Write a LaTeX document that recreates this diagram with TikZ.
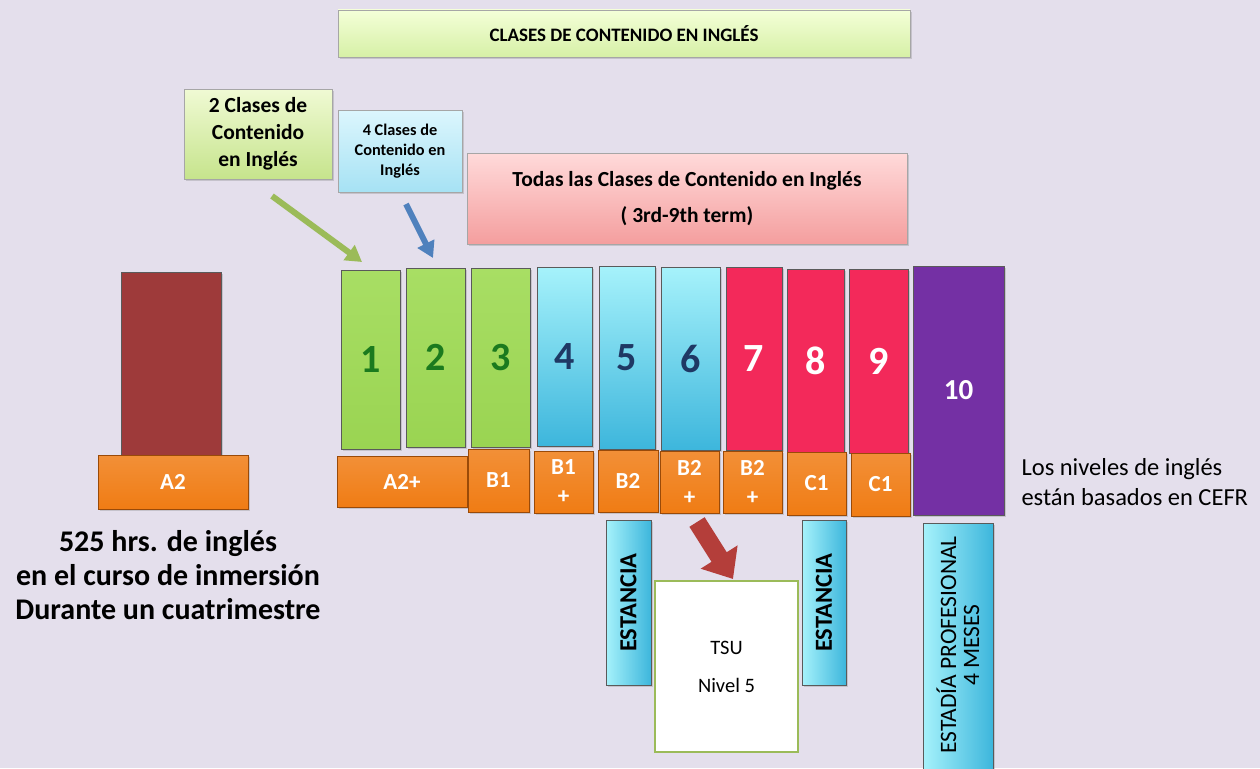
\documentclass[tikz,border=0pt]{standalone}
\usepackage{fontspec}
\setmainfont{Carlito}
\usetikzlibrary{shadows,arrows.meta}
\definecolor{bgc}{HTML}{E4DFEC}
\definecolor{grn}{HTML}{9AD452}
\definecolor{grnL}{HTML}{A8DE64}
\definecolor{grnD}{HTML}{1B7A1E}
\definecolor{bluT}{HTML}{A6F2FB}
\definecolor{bluB}{HTML}{3DB6DC}
\definecolor{navy}{HTML}{1F3864}
\definecolor{redc}{HTML}{F3295A}
\definecolor{purp}{HTML}{7430A4}
\definecolor{brn}{HTML}{9E3A3A}
\definecolor{org}{HTML}{F07C14}
\definecolor{orgD}{HTML}{9A4A08}
\definecolor{bord}{HTML}{5A5A5A}
\definecolor{titT}{HTML}{F4FFD8}
\definecolor{titB}{HTML}{D6F0A6}
\definecolor{c1T}{HTML}{F0FAD4}
\definecolor{c1B}{HTML}{C6E48C}
\definecolor{c2T}{HTML}{DCF6FD}
\definecolor{c2B}{HTML}{A6E2F4}
\definecolor{tdT}{HTML}{FFDADA}
\definecolor{tdB}{HTML}{F49E9E}
\definecolor{garr}{HTML}{9BBB59}
\definecolor{barr}{HTML}{4F81BD}
\definecolor{rarr}{HTML}{B43E3A}
\tikzset{
  box/.style={draw=bord, line width=0.8pt, inner sep=0pt, align=center,
    drop shadow={opacity=0.3, shadow xshift=2pt, shadow yshift=-2pt}},
  numf/.style={font=\bfseries\fontsize{40}{42}\selectfont},
  gcol/.style={box, top color=grnL, bottom color=grn, text=grnD, numf},
  bcol/.style={box, top color=bluT, bottom color=bluB, text=navy, numf},
  rcol/.style={box, fill=redc, text=white, numf},
  lvl/.style={box, draw=orgD, top color=org!85!white, bottom color=org, text=white, font=\bfseries\fontsize{23}{29}\selectfont},
  estbox/.style={box, left color=bluT, right color=bluB},
}
\begin{document}
\begin{tikzpicture}[x=1pt,y=-1pt]
\fill[bgc] (0,0) rectangle (1260,768);
\useasboundingbox (0,0) rectangle (1260,768);

% title
\node[box, draw=gray!70, top color=titT, bottom color=titB,
  minimum width=572pt, minimum height=47pt, font=\bfseries\fontsize{19}{21}\selectfont] (title) at (624,33.5) {CLASES DE CONTENIDO EN INGLÉS};

% callouts
\node[box, draw=gray!70, top color=c1T, bottom color=c1B,
  minimum width=148pt, minimum height=90pt, font=\bfseries\fontsize{21.5}{27}\selectfont] (cl1) at (258,134) {2 Clases de\\Contenido\\en Inglés};
\node[box, draw=gray!70, top color=c2T, bottom color=c2B,
  minimum width=124pt, minimum height=82pt, font=\bfseries\fontsize{16.3}{20}\selectfont] (cl2) at (400,151) {4 Clases de\\Contenido en\\Inglés};
\node[box, draw=gray!70, top color=tdT, bottom color=tdB,
  minimum width=440pt, minimum height=91pt, font=\bfseries\fontsize{21.5}{36}\selectfont] (todas) at (687,198.5) {Todas las Clases de Contenido en Inglés\\( 3rd-9th term)};

% arrows
\coordinate (ga1) at (272,196);
\coordinate (ga2) at (362,262);
\coordinate (ba1) at (406,204);
\coordinate (ba2) at (433,258);
\draw[line width=6pt, draw=garr, -{Triangle[length=16pt,width=18pt]}] (ga1) -- (ga2);
\draw[line width=6pt, draw=barr, -{Triangle[length=16pt,width=18pt]}] (ba1) -- (ba2);

% brown column + A2
\node[box, fill=brn, minimum width=100pt, minimum height=183pt] (c0) at (171,363.5) {};
\node[lvl, minimum width=150pt, minimum height=54pt] (a2) at (173,482) {A2};

% columns
\node[gcol, minimum width=59pt, minimum height=179pt] (c1) at (370.5,359.5) {1};
\node[gcol, minimum width=59pt, minimum height=179pt] (c2) at (435.5,357.5) {2};
\node[gcol, minimum width=59pt, minimum height=179pt] (c3) at (500.5,357.5) {3};
\node[bcol, minimum width=55pt, minimum height=179pt] (c4) at (564.5,356.5) {4};
\node[bcol, minimum width=56pt, minimum height=183pt] (c5) at (627,357.5) {5};
\node[bcol, minimum width=59pt, minimum height=183pt] (c6) at (690.5,358.5) {6};
\node[rcol, minimum width=56pt, minimum height=183pt] (c7) at (754,358.5) {7};
\node[rcol, minimum width=57pt, minimum height=183pt] (c8) at (815.5,360.5) {8};
\node[rcol, minimum width=59pt, minimum height=184pt] (c9) at (878.5,361) {9};
\node[box, fill=purp, text=white, minimum width=91pt, minimum height=249pt, font=\bfseries\fontsize{29}{31}\selectfont] (c10) at (958.5,390.5) {10};

% levels
\node[lvl, minimum width=130pt, minimum height=51pt] (l1) at (402,481.5) {A2+};
\node[lvl, minimum width=61pt, minimum height=63pt] (l3) at (498.5,480.5) {B1};
\node[lvl, minimum width=59pt, minimum height=62pt] (l4) at (563.5,482) {B1\\+};
\node[lvl, minimum width=60pt, minimum height=62pt] (l5) at (628,481) {B2};
\node[lvl, minimum width=59pt, minimum height=62pt] (l6) at (689.5,482) {B2\\+};
\node[lvl, minimum width=59pt, minimum height=62pt] (l7) at (752.5,482) {B2\\+};
\node[lvl, minimum width=59pt, minimum height=63pt] (l8) at (816.5,483.5) {C1};
\node[lvl, minimum width=59pt, minimum height=63pt] (l9) at (880.5,484.5) {C1};

% left text
\node[align=center, font=\bfseries\fontsize{30}{34}\selectfont] (hrs) at (168,575) {525 hrs. de inglés\\en el curso de inmersión\\Durante un cuatrimestre};

% right text
\node[align=left, anchor=west, font=\fontsize{24.5}{30}\selectfont] (cefr) at (1018,482) {Los niveles de inglés\\están basados en CEFR};

% estancias
\node[estbox, minimum width=45pt, minimum height=165pt] (e1) at (628.5,602.5) {};
\node[rotate=90, font=\bfseries\fontsize{24.5}{26}\selectfont] (e1t) at (e1) {ESTANCIA};
\node[estbox, minimum width=44pt, minimum height=165pt] (e2) at (824,602.5) {};
\node[rotate=90, font=\bfseries\fontsize{24.5}{26}\selectfont] (e2t) at (e2) {ESTANCIA};
\node[estbox, minimum width=70pt, minimum height=250pt] (ep) at (958,648) {};
\node[rotate=90, align=center, font=\fontsize{23.5}{23}\selectfont] (ept) at (958,645) {ESTADÍA PROFESIONAL\\4 MESES};

% TSU
\node[draw=garr, line width=2.5pt, fill=white, minimum width=143pt, minimum height=171pt, inner sep=0pt,
  align=center, font=\fontsize{20.5}{38}\selectfont] (tsu) at (726.5,666.5) {TSU\\Nivel 5};

% red arrow
\coordinate (ra1) at (697,522);
\coordinate (ra2) at (733,579);
\draw[line width=18pt, draw=rarr, -{Triangle[length=26pt,width=42pt]}] (ra1) -- (ra2);
\end{tikzpicture}
\end{document}
